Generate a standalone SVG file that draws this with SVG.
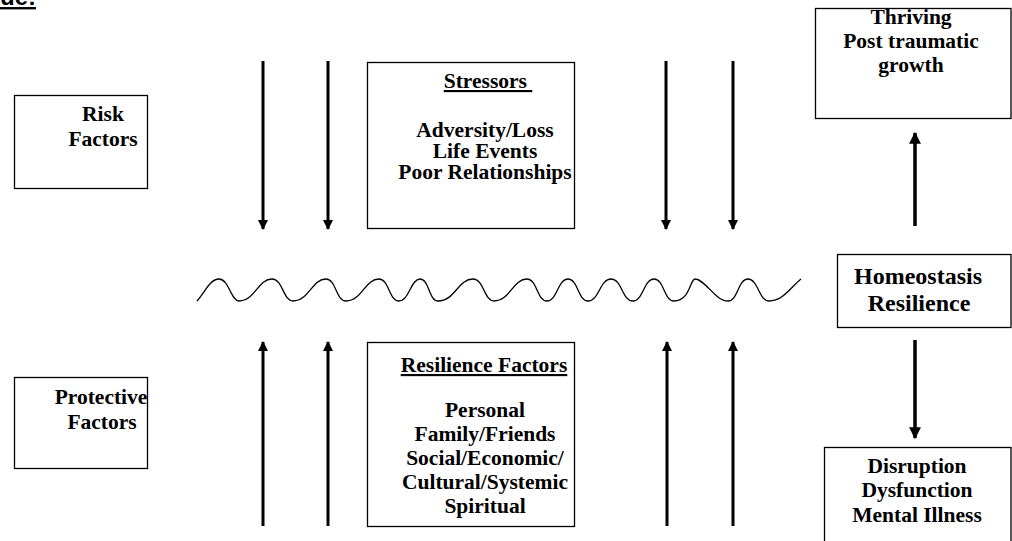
<svg xmlns="http://www.w3.org/2000/svg" width="1012" height="541" viewBox="0 0 1012 541">
<style>
.box{fill:#fff;stroke:#000;stroke-width:1.3}
.t{font-family:"Liberation Serif","Times New Roman",serif;font-weight:bold;font-size:21.5px;fill:#000;text-anchor:middle}
.big{font-size:24px}
.u{text-decoration:underline}
.arr{stroke:#000;stroke-width:3;fill:none}
.arr2{stroke:#000;stroke-width:3.5;fill:none}
.wave{stroke:#000;stroke-width:1.3;fill:none}
</style>
<defs>
<marker id="ah" viewBox="0 0 10 10" refX="9" refY="5" markerWidth="3.4" markerHeight="3.4" orient="auto" markerUnits="strokeWidth">
<path d="M0,0 L10,5 L0,10 Z" fill="#000"/>
</marker>
</defs>
<rect width="1012" height="541" fill="#fff"/>
<text x="0" y="5" font-family="Liberation Sans, Arial, sans-serif" font-weight="bold" font-size="24" text-decoration="underline">ue:</text>

<g id="risk">
<rect class="box" x="14.5" y="95.5" width="133" height="93"/>
<text class="t" x="103" y="121">Risk</text>
<text class="t" x="103" y="146">Factors</text>
</g>
<g id="protective">
<rect class="box" x="14.5" y="377.5" width="133" height="91"/>
<text class="t" x="101" y="404">Protective</text>
<text class="t" x="102" y="429">Factors</text>
</g>
<g id="stressors">
<rect class="box" x="367.5" y="62.5" width="207" height="166"/>
<text class="t u" x="488" y="88" xml:space="preserve">Stressors </text>
<text class="t" x="485" y="137">Adversity/Loss</text>
<text class="t" x="485" y="158">Life Events</text>
<text class="t" x="485" y="179">Poor Relationships</text>
</g>
<g id="resilience-factors">
<rect class="box" x="367.5" y="342.5" width="207" height="184"/>
<text class="t u" x="484" y="372">Resilience Factors</text>
<text class="t" x="485" y="417">Personal</text>
<text class="t" x="485" y="441">Family/Friends</text>
<text class="t" x="485" y="465">Social/Economic/</text>
<text class="t" x="485" y="489">Cultural/Systemic</text>
<text class="t" x="485" y="513">Spiritual</text>
</g>
<g id="thriving">
<rect class="box" x="815.5" y="8.5" width="195.5" height="110"/>
<text class="t" x="911" y="24">Thriving</text>
<text class="t" x="911" y="48">Post traumatic</text>
<text class="t" x="911" y="72">growth</text>
</g>
<g id="homeostasis">
<rect class="box" x="837.5" y="254.5" width="173.5" height="73"/>
<text class="t big" x="918" y="284">Homeostasis</text>
<text class="t big" x="919" y="311">Resilience</text>
</g>
<g id="disruption">
<rect class="box" x="824.5" y="447.5" width="186.5" height="110"/>
<text class="t" x="917" y="473">Disruption</text>
<text class="t" x="917" y="497">Dysfunction</text>
<text class="t" x="917" y="522">Mental Illness</text>
</g>

<g id="connectors">
<line class="arr" x1="263" y1="61" x2="263" y2="229" marker-end="url(#ah)"/>
<line class="arr" x1="328" y1="61" x2="328" y2="229" marker-end="url(#ah)"/>
<line class="arr" x1="666" y1="61" x2="666" y2="229" marker-end="url(#ah)"/>
<line class="arr" x1="733" y1="61" x2="733" y2="229" marker-end="url(#ah)"/>
<line class="arr" x1="263" y1="526" x2="263" y2="342" marker-end="url(#ah)"/>
<line class="arr" x1="328" y1="526" x2="328" y2="342" marker-end="url(#ah)"/>
<line class="arr" x1="667" y1="526" x2="667" y2="342" marker-end="url(#ah)"/>
<line class="arr" x1="733" y1="526" x2="733" y2="342" marker-end="url(#ah)"/>
<line class="arr2" x1="915" y1="226" x2="915" y2="133" marker-end="url(#ah)"/>
<line class="arr2" x1="915" y1="340" x2="915" y2="438" marker-end="url(#ah)"/>
<path class="wave" d="M197,301 C205,292 210,279 219,279 C229,279 231,301 239,301 C255,301 258,279 272,279 C283,279 283,301 293,301 C309,301 312,279 326,279 C336,279 336,301 346,301 C362,301 365,279 379,279 C389,279 389,301 399,301 C409,301 411,279 420,279 C429,279 429,301 438,301 C455,301 458,279 473,279 C484,279 484,301 494,301 C510,301 513,279 527,279 C537,279 537,301 547,301 C557,301 558,279 568,279 C578,279 578,301 588,301 C599,301 600,279 611,279 C622,279 622,301 633,301 C643,301 644,279 654,279 C664,279 664,301 674,301 C690,301 690,279 695,279 C705,279 715,301 728,301 C738,301 738,279 748,279 C758,279 759,301 769,301 C783,301 790,288 801,279"/>
</g>
</svg>
